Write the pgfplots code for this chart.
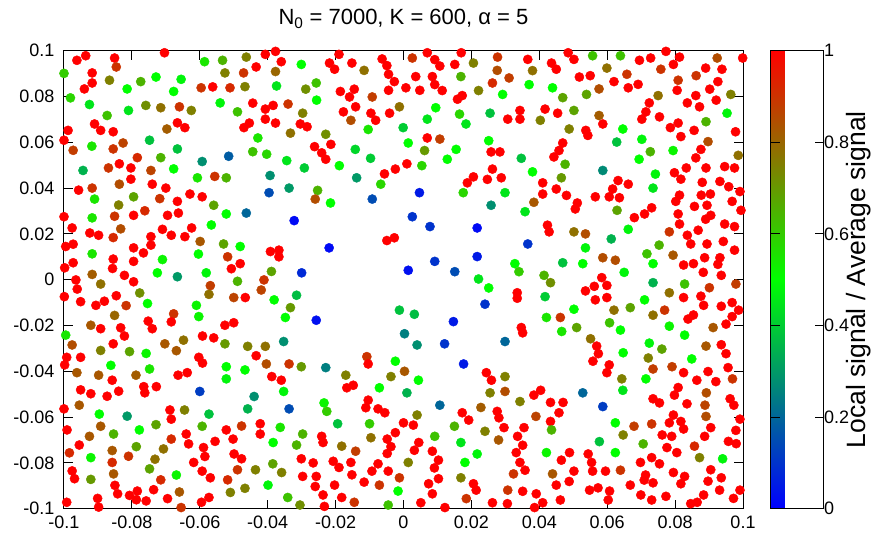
\documentclass[border=0pt]{standalone}
\usepackage{pgfplots}
\pgfplotsset{compat=1.18}
\usepackage{fontspec}
\setmainfont{Liberation Sans}

\begin{document}
\begin{tikzpicture}
\path[use as bounding box] (-64pt,-34.3pt) rectangle (811pt,508.7pt);
\begin{axis}[
  at={(0pt,0pt)}, anchor=south west,
  scale only axis, width=679pt, height=458pt,
  xmin=-0.1, xmax=0.1, ymin=-0.1, ymax=0.1,
  xtick={-0.1,-0.08,-0.06,-0.04,-0.02,0,0.02,0.04,0.06,0.08,0.1},
  ytick={-0.1,-0.08,-0.06,-0.04,-0.02,0,0.02,0.04,0.06,0.08,0.1},
  xticklabels={-0.1,-0.08,-0.06,-0.04,-0.02,0,0.02,0.04,0.06,0.08,0.1},
  yticklabels={-0.1,-0.08,-0.06,-0.04,-0.02,0,0.02,0.04,0.06,0.08,0.1},
  tick align=inside, tick pos=both, major tick length=9pt,
  xticklabel pos=lower, yticklabel pos=left,
  axis line style={line width=1pt},
  every tick/.style={black, line width=1pt},
  tick label style={font=\fontsize{18}{20}\selectfont},
  xticklabel style={yshift=-4pt},
  yticklabel style={xshift=-6pt},
  title={N\textsubscript{0} = 7000, K = 600, α = 5},
  title style={font=\fontsize{22}{24}\selectfont, at={(0.5,1)}, anchor=base, yshift=20pt},
  clip=false,
  colormap={bgr}{rgb=(0,0,1) rgb=(0,1,0) rgb=(1,0,0)},
  point meta min=0, point meta max=1,
  colorbar,
  colorbar style={
    at={(parent axis.north east)}, anchor=north west, xshift=19pt,
    width=53pt,
    ytick={0,0.2,0.4,0.6,0.8,1},
    yticklabels={0,0.2,0.4,0.6,0.8,1},
    tick align=inside, major tick length=9pt,
    axis line style={line width=1pt},
    every tick/.style={black, line width=1pt},
    tick label style={font=\fontsize{18}{20}\selectfont},
    yticklabel style={anchor=west, xshift=-3pt},
    ylabel={Local signal / Average signal},
    ylabel style={font=\fontsize{26.5}{30}\selectfont, at={(axis description cs:1.67,0.5)}, anchor=center},
  },
]
\addplot[scatter, only marks, mark=*, mark size=4.6pt, scatter src=explicit,
  scatter/use mapped color={draw=mapped color, fill=mapped color}]
  table[x=x, y=y, meta=c] {
x y c
-0.0962 0.0958 1
-0.0936 0.0978 1
-0.0851 0.0968 1
-0.0846 0.0929 0.9
-0.0704 0.0991 1
-0.1000 0.0901 0.6
-0.0917 0.0903 1
-0.0917 0.0859 1
-0.0940 0.0833 1
-0.0866 0.0871 0.75
-0.0814 0.0833 0.5
-0.0774 0.0865 0.65
-0.0729 0.0885 0.5
-0.0655 0.0875 0.48
-0.0677 0.0822 0.5
-0.0586 0.0952 0.55
-0.0533 0.0958 0.65
-0.0526 0.0903 0.75
-0.0596 0.0838 0.9
-0.0562 0.0842 1
-0.0511 0.0838 0.92
-0.0981 0.0794 0.58
-0.0925 0.0765 0.45
-0.0873 0.0717 0.62
-0.0810 0.0739 0.45
-0.0759 0.0761 0.72
-0.0715 0.0751 0.78
-0.0660 0.0755 0.9
-0.0625 0.0739 0.75
-0.0540 0.0772 0.48
-0.0910 0.0680 1
-0.0892 0.0652 1
-0.0855 0.0646 1
-0.0988 0.0652 1
-0.1000 0.0609 1
-0.0697 0.0658 0.82
-0.0666 0.0685 1
-0.0644 0.0664 1
-0.0973 0.0565 0.88
-0.0918 0.0583 0.55
-0.0855 0.0571 0.9
-0.0826 0.0597 0.87
-0.0748 0.0609 0.38
-0.0666 0.0571 0.38
-0.0784 0.0533 0.92
-0.0715 0.0533 0.65
-0.0837 0.0506 1
-0.0803 0.0488 1
-0.0869 0.0488 0.9
-0.0944 0.0477 0.35
-0.0744 0.0477 0.87
-0.0677 0.0484 0.5
-0.0593 0.0516 0.28
-0.0515 0.0539 0.18
-0.0803 0.0439 1
-0.0837 0.0417 0.85
-0.0740 0.0417 1
-0.0700 0.0400 1
-0.0607 0.0445 0.55
-0.0556 0.0451 0.9
-0.0522 0.0445 0.65
-0.0957 0.0391 1
-0.0917 0.0400 0.9
-0.0629 0.0374 1
-0.0593 0.0362 1
-0.0910 0.0352 0.55
-0.0795 0.0362 0.68
-0.0718 0.0354 0.9
-0.0463 0.0972 0.75
-0.0407 0.0984 1
-0.0377 0.0997 1
-0.0360 0.0952 1
-0.0434 0.0929 1
-0.0471 0.0903 0.9
-0.0377 0.0909 0.8
-0.0301 0.0940 0.5
-0.0218 0.0946 1
-0.0203 0.0919 1
-0.0190 0.0984 1
-0.0152 0.0946 1
-0.0116 0.0914 0.78
-0.0063 0.0964 1
-0.0049 0.0935 1
-0.0044 0.0897 1
-0.0027 0.0865 1
-0.0467 0.0843 0.75
-0.0374 0.0846 0.45
-0.0288 0.0832 0.72
-0.0257 0.0859 0.62
-0.0256 0.0784 0.5
-0.0186 0.0822 1
-0.0159 0.0798 1
-0.0145 0.0832 1
-0.0092 0.0798 0.88
-0.0044 0.0827 1
-0.0444 0.0771 1
-0.0407 0.0745 1
-0.0384 0.0761 1
-0.0340 0.0767 0.9
-0.0489 0.0733 0.62
-0.0297 0.0727 0.75
-0.0177 0.0733 1
-0.0141 0.0755 1
-0.0096 0.0727 1
-0.0082 0.0696 1
-0.0041 0.0727 1
-0.0012 0.0755 0.78
-0.0407 0.0701 1
-0.0377 0.0684 1
-0.0454 0.0684 1
-0.0470 0.0664 1
-0.0304 0.0680 1
-0.0284 0.0668 1
-0.0333 0.0640 0.78
-0.0229 0.0635 0.72
-0.0155 0.0696 0.85
-0.0104 0.0656 0.55
-0.0429 0.0619 0.55
-0.0262 0.0581 1
-0.0214 0.0591 1
-0.0241 0.0554 1
-0.0229 0.0526 1
-0.0444 0.0559 0.62
-0.0403 0.0548 0.58
-0.0344 0.0520 0.45
-0.0292 0.0488 0.4
-0.0189 0.0498 0.5
-0.0142 0.0569 0.42
-0.0097 0.0530 0.4
-0.0056 0.0462 1
-0.0024 0.0483 1
-0.0393 0.0455 0.28
-0.0337 0.0400 0.3
-0.0396 0.0380 0.15
-0.0253 0.0390 0.65
-0.0138 0.0445 0.3
-0.0067 0.0417 0.58
-0.0092 0.0352 0.15
-0.0260 0.0352 0.85
0.0026 0.0968 0.9
0.0070 0.0991 1
0.0092 0.0961 1
0.0107 0.0933 1
0.0151 0.0940 1
0.0170 0.0991 1
0.0206 0.0946 0.75
0.0277 0.0972 0.9
0.0366 0.0962 1
0.0436 0.0946 1
0.0450 0.0919 1
0.0485 0.0991 1
0.0276 0.0914 0.85
0.0311 0.0881 0.88
0.0380 0.0913 0.78
0.0262 0.0859 0.92
0.0036 0.0887 1
0.0085 0.0887 1
0.0092 0.0852 1
0.0114 0.0826 1
0.0007 0.0838 1
0.0048 0.0827 1
0.0169 0.0887 0.65
0.0221 0.0826 0.75
0.0370 0.0852 0.5
0.0439 0.0838 0.5
0.0469 0.0795 0.68
0.0173 0.0804 1
0.0159 0.0788 1
0.0292 0.0809 0.5
0.0095 0.0751 0.5
0.0070 0.0701 0.45
0.0165 0.0723 0.58
0.0184 0.0680 0.45
0.0255 0.0727 0.38
0.0343 0.0739 1
0.0307 0.0701 1
0.0343 0.0701 1
0.0417 0.0745 1
0.0454 0.0727 1
0.0403 0.0696 0.75
-0.0001 0.0664 0.4
0.0070 0.0619 1
0.0107 0.0614 0.88
0.0014 0.0597 0.5
0.0062 0.0564 0.7
0.0155 0.0569 0.5
0.0129 0.0526 0.5
0.0054 0.0498 0.58
0.0010 0.0506 1
0.0251 0.0607 0.5
0.0258 0.0558 1
0.0284 0.0558 1
0.0347 0.0530 0.38
0.0469 0.0597 1
0.0458 0.0564 1
0.0443 0.0536 1
0.0476 0.0504 0.65
0.0488 0.0658 0.75
0.0262 0.0483 1
0.0206 0.0449 1
0.0188 0.0423 1
0.0247 0.0438 1
0.0288 0.0445 1
0.0380 0.0471 0.5
0.0410 0.0423 1
0.0450 0.0396 1
0.0465 0.0445 0.7
0.0410 0.0374 1
0.0480 0.0368 1
0.0047 0.0380 0.05
0.0176 0.0380 0.58
0.0299 0.0380 0.45
0.0502 0.0962 1
0.0557 0.0978 0.62
0.0639 0.0978 0.62
0.0695 0.0958 1
0.0728 0.0968 1
0.0773 0.0997 1
0.0795 0.0940 1
0.0813 0.0972 1
0.0924 0.0968 0.85
0.0999 0.0968 1
0.0599 0.0924 0.78
0.0758 0.0919 0.9
0.0890 0.0924 1
0.0938 0.0919 1
0.0518 0.0885 1
0.0550 0.0891 1
0.0658 0.0897 0.9
0.0620 0.0865 1
0.0662 0.0838 1
0.0691 0.0853 1
0.0809 0.0871 0.9
0.0862 0.0891 0.9
0.0926 0.0865 1
0.0576 0.0833 0.85
0.0539 0.0809 0.68
0.0750 0.0804 0.78
0.0806 0.0827 1
0.0861 0.0804 1
0.0902 0.0832 1
0.0921 0.0784 1
0.0964 0.0809 0.75
0.0724 0.0772 1
0.0714 0.0733 1
0.0836 0.0772 1
0.0872 0.0755 1
0.0502 0.0739 0.68
0.0576 0.0717 0.82
0.0587 0.0680 1
0.0702 0.0701 1
0.0754 0.0711 1
0.0953 0.0727 0.48
0.0646 0.0658 0.5
0.0537 0.0652 1
0.0543 0.0630 1
0.0786 0.0664 1
0.0809 0.0684 1
0.0817 0.0625 1
0.0856 0.0652 1
0.0891 0.0690 0.65
0.0978 0.0646 1
0.0628 0.0601 0.38
0.0702 0.0613 0.48
0.0897 0.0603 0.85
0.0986 0.0543 0.78
0.0727 0.0559 0.65
0.0794 0.0564 0.52
0.0694 0.0526 0.5
0.0876 0.0569 1
0.0861 0.0532 1
0.0587 0.0477 0.27
0.0632 0.0433 1
0.0616 0.0396 1
0.0662 0.0417 1
0.0742 0.0461 0.48
0.0735 0.0400 0.45
0.0798 0.0467 1
0.0817 0.0439 1
0.0833 0.0488 1
0.0891 0.0488 1
0.0946 0.0494 1
0.0975 0.0488 1
0.0880 0.0425 1
0.0932 0.0429 1
0.0958 0.0406 1
0.0991 0.0385 1
0.0565 0.0362 1
0.0606 0.0362 1
0.0636 0.0358 1
0.0813 0.0369 1
0.0877 0.0369 1
0.0904 0.0374 1
-0.0839 0.0326 0.75
-0.0666 0.0342 1
-0.0559 0.0325 0.68
-0.0522 0.0287 0.5
-0.1000 0.0275 1
-0.0917 0.0270 0.55
-0.0851 0.0277 0.9
-0.0795 0.0281 1
-0.0762 0.0301 0.92
-0.0695 0.0281 1
-0.0663 0.0291 1
-0.0566 0.0239 0.5
-0.0976 0.0226 1
-0.0924 0.0204 1
-0.0898 0.0194 1
-0.0833 0.0222 0.85
-0.0855 0.0184 0.92
-0.0744 0.0188 1
-0.0710 0.0220 1
-0.0684 0.0194 1
-0.0644 0.0188 1
-0.0624 0.0226 1
-0.0599 0.0167 0.83
-0.0530 0.0156 0.68
-0.0995 0.0145 1
-0.0973 0.0155 1
-0.0795 0.0139 1
-0.0744 0.0151 1
-0.0766 0.0117 1
-0.0917 0.0113 0.55
-0.0855 0.0090 1
-0.0795 0.0080 1
-0.0710 0.0088 0.52
-0.0604 0.0112 0.5
-0.0518 0.0100 0.9
-0.0998 0.0052 1
-0.0973 0.0074 1
-0.0857 0.0049 1
-0.0725 0.0030 0.5
-0.0666 0.0013 0.3
-0.0581 0.0030 0.48
-0.0507 0.0048 1
-0.0917 0.0023 0.82
-0.0822 0.0019 1
-0.0795 -0.0009 1
-0.0965 -0.0001 1
-0.0961 -0.0041 1
-0.0892 -0.0019 0.78
-0.0569 -0.0026 0.88
-0.0573 -0.0064 0.78
-0.0999 -0.0074 1
-0.0951 -0.0096 1
-0.0906 -0.0112 1
-0.0881 -0.0094 1
-0.0846 -0.0070 1
-0.0817 -0.0113 0.9
-0.0777 -0.0058 0.72
-0.0754 -0.0104 0.5
-0.0610 -0.0112 0.52
-0.0677 -0.0149 0.9
-0.0684 -0.0184 1
-0.0752 -0.0181 1
-0.0740 -0.0214 1
-0.0851 -0.0156 0.8
-0.0921 -0.0199 0.83
-0.0892 -0.0214 1
-0.0833 -0.0210 1
-0.0822 -0.0246 1
-0.0855 -0.0280 1
-0.0603 -0.0161 0.52
-0.0526 -0.0199 1
-0.0995 -0.0242 0.55
-0.0976 -0.0285 0.85
-0.0892 -0.0309 0.75
-0.0807 -0.0314 0.68
-0.0758 -0.0322 0.52
-0.0703 -0.0280 0.83
-0.0648 -0.0264 0.78
-0.0669 -0.0310 0.83
-0.0592 -0.0246 1
-0.0559 -0.0254 1
-0.0526 -0.0280 0.7
-0.0215 0.0335 0.5
-0.0463 0.0291 0.2
-0.0322 0.0258 0.02
-0.0219 0.0139 0.02
-0.0049 0.0171 1
-0.0027 0.0183 1
-0.0481 0.0145 0.5
-0.0392 0.0123 1
-0.0367 0.0129 1
-0.0367 0.0100 1
-0.0481 0.0070 1
-0.0389 0.0036 0.68
-0.0300 0.0030 0.08
-0.0489 -0.0007 0.65
-0.0411 -0.0001 0.9
-0.0419 -0.0045 0.87
-0.0500 -0.0078 0.87
-0.0466 -0.0078 1
-0.0381 -0.0088 0.5
-0.0315 -0.0068 0.37
-0.0333 -0.0122 0.7
-0.0348 -0.0165 0.5
-0.0257 -0.0177 0.03
-0.0012 -0.0133 0.38
-0.0500 -0.0188 1
-0.0353 -0.0270 0.28
-0.0459 -0.0291 0.75
-0.0407 -0.0291 0.78
0.0258 0.0325 0.28
0.0384 0.0338 0.83
0.0358 0.0297 0.45
0.0026 0.0275 0.1
0.0078 0.0232 0.1
0.0217 0.0226 0.02
0.0424 0.0238 1
0.0429 0.0209 1
0.0366 0.0156 0.1
0.0092 0.0080 0.1
0.0217 0.0101 0.05
0.0014 0.0041 0.03
0.0151 0.0035 0.15
0.0328 0.0070 0.5
0.0340 0.0035 0.6
0.0469 0.0074 0.38
0.0221 0.0003 0.45
0.0251 -0.0036 0.5
0.0414 0.0019 0.65
0.0433 -0.0013 0.72
0.0335 -0.0057 1
0.0335 -0.0081 1
0.0417 -0.0074 0.4
0.0240 -0.0107 0.1
0.0032 -0.0151 0.37
0.0147 -0.0183 0.05
0.0421 -0.0165 0.55
0.0462 -0.0165 0.9
0.0347 -0.0209 1
0.0351 -0.0232 1
0.0466 -0.0226 0.55
0.0003 -0.0236 0.25
0.0040 -0.0285 0.28
0.0121 -0.0280 0.1
0.0299 -0.0270 0.2
0.0512 0.0335 1
0.0506 0.0309 1
0.0802 0.0342 1
0.0968 0.0342 1
0.0629 0.0303 0.68
0.0731 0.0314 1
0.0710 0.0287 1
0.0680 0.0271 1
0.0809 0.0287 1
0.0857 0.0320 1
0.0894 0.0325 1
0.0905 0.0281 1
0.0890 0.0264 1
0.0994 0.0303 1
0.0813 0.0243 1
0.0868 0.0216 1
0.0946 0.0243 1
0.0975 0.0232 1
0.0502 0.0209 0.78
0.0536 0.0200 0.85
0.0612 0.0178 0.35
0.0662 0.0220 0.48
0.0783 0.0209 0.9
0.0836 0.0194 1
0.0846 0.0156 1
0.0894 0.0156 1
0.0942 0.0167 1
0.0975 0.0129 1
0.0536 0.0139 0.48
0.0753 0.0151 0.65
0.0717 0.0113 0.62
0.0794 0.0107 0.83
0.0528 0.0070 0.5
0.0587 0.0096 0.85
0.0624 0.0085 0.85
0.0650 0.0032 0.48
0.0735 0.0070 0.5
0.0825 0.0064 1
0.0854 0.0070 1
0.0887 0.0096 1
0.0932 0.0096 1
0.0926 0.0067 1
0.0883 0.0032 1
0.0936 0.0019 1
0.0584 0.0009 1
0.0562 -0.0029 1
0.0599 -0.0025 1
0.0536 -0.0049 1
0.0565 -0.0088 1
0.0599 -0.0078 1
0.0735 -0.0013 0.35
0.0828 -0.0019 0.62
0.0901 -0.0035 0.9
0.0979 -0.0019 0.88
0.0783 -0.0057 0.78
0.0825 -0.0078 1
0.0876 -0.0072 1
0.0884 -0.0112 1
0.0936 -0.0116 1
0.0968 -0.0100 1
0.0987 -0.0133 1
0.0968 -0.0161 1
0.0854 -0.0154 1
0.0838 -0.0172 1
0.0710 -0.0088 0.5
0.0502 -0.0129 0.5
0.0620 -0.0133 0.78
0.0668 -0.0122 0.68
0.0769 -0.0133 0.9
0.0735 -0.0155 0.78
0.0510 -0.0209 0.68
0.0607 -0.0188 0.62
0.0639 -0.0220 0.5
0.0783 -0.0203 0.52
0.0950 -0.0194 1
0.0912 -0.0209 0.83
0.0551 -0.0258 0.78
0.0569 -0.0290 1
0.0574 -0.0323 1
0.0724 -0.0277 0.48
0.0761 -0.0303 0.68
0.0828 -0.0242 0.5
0.0891 -0.0290 0.83
0.0936 -0.0284 1
0.0950 -0.0323 1
0.0647 -0.0319 0.5
-0.0992 -0.0339 1
-0.0951 -0.0339 1
-0.0998 -0.0372 1
-0.0603 -0.0339 1
-0.0592 -0.0364 1
-0.0862 -0.0374 0.5
-0.0748 -0.0390 0.55
-0.0522 -0.0380 0.5
-0.0522 -0.0433 0.48
-0.0962 -0.0406 0.83
-0.0898 -0.0417 0.83
-0.0788 -0.0417 0.82
-0.0858 -0.0439 1
-0.0664 -0.0417 1
-0.0637 -0.0406 1
-0.0765 -0.0467 1
-0.0762 -0.0494 1
-0.0728 -0.0467 1
-0.0951 -0.0481 1
-0.0921 -0.0498 1
-0.0873 -0.0509 1
-0.0839 -0.0487 1
-0.0600 -0.0488 0.12
-0.1000 -0.0564 1
-0.0955 -0.0548 0.83
-0.0896 -0.0587 0.5
-0.0814 -0.0596 0.3
-0.0688 -0.0569 1
-0.0684 -0.0609 1
-0.0645 -0.0569 0.75
-0.0573 -0.0587 0.38
-0.0991 -0.0656 1
-0.0892 -0.0640 0.83
-0.0925 -0.0684 0.83
-0.0955 -0.0722 1
-0.0854 -0.0674 0.65
-0.0778 -0.0656 0.5
-0.0729 -0.0633 0.68
-0.0593 -0.0640 0.65
-0.0522 -0.0656 1
-0.0684 -0.0696 0.92
-0.0640 -0.0674 1
-0.0633 -0.0717 1
-0.0589 -0.0733 1
-0.0555 -0.0706 1
-0.0585 -0.0772 1
-0.0984 -0.0756 0.92
-0.0921 -0.0777 0.52
-0.0858 -0.0746 0.83
-0.0787 -0.0729 0.68
-0.0707 -0.0739 0.78
-0.0810 -0.0771 0.9
-0.0858 -0.0798 0.92
-0.0732 -0.0784 0.78
-0.0618 -0.0798 1
-0.0976 -0.0835 1
-0.0969 -0.0869 1
-0.0921 -0.0872 0.7
-0.0854 -0.0848 0.83
-0.0748 -0.0826 0.68
-0.0669 -0.0853 0.52
-0.0715 -0.0874 0.92
-0.0593 -0.0836 1
-0.0569 -0.0865 1
-0.0518 -0.0874 0.92
-0.0850 -0.0898 1
-0.0842 -0.0935 1
-0.0901 -0.0955 1
-0.0898 -0.0993 1
-0.0992 -0.0972 1
-0.0807 -0.0942 1
-0.0784 -0.0923 1
-0.0787 -0.0961 1
-0.0758 -0.0966 1
-0.0736 -0.0917 1
-0.0695 -0.0956 1
-0.0660 -0.0927 0.83
-0.0655 -0.0995 0.9
-0.0595 -0.0972 1
-0.0573 -0.0951 1
-0.0510 -0.0929 0.75
-0.0434 -0.0332 1
-0.0404 -0.0368 0.85
-0.0337 -0.0368 0.9
-0.0301 -0.0380 0.7
-0.0229 -0.0384 0.25
-0.0108 -0.0336 0.9
-0.0104 -0.0368 1
-0.0024 -0.0356 0.5
-0.0467 -0.0394 0.5
-0.0388 -0.0423 1
-0.0360 -0.0439 1
-0.0170 -0.0417 0.75
-0.0037 -0.0423 0.75
-0.0167 -0.0472 1
-0.0148 -0.0461 1
-0.0071 -0.0472 0.5
-0.0353 -0.0488 0.48
-0.0440 -0.0510 0.28
-0.0459 -0.0564 0.35
-0.0337 -0.0564 0.15
-0.0234 -0.0538 0.52
-0.0226 -0.0575 0.6
-0.0104 -0.0526 1
-0.0111 -0.0559 1
-0.0075 -0.0564 1
-0.0055 -0.0581 1
-0.0477 -0.0639 0.9
-0.0422 -0.0629 1
-0.0422 -0.0674 1
-0.0363 -0.0645 0.55
-0.0194 -0.0629 0.38
-0.0100 -0.0629 0.6
-0.0502 -0.0696 1
-0.0384 -0.0711 0.5
-0.0297 -0.0674 0.65
-0.0315 -0.0722 0.65
-0.0241 -0.0684 1
-0.0237 -0.0711 1
-0.0182 -0.0727 0.78
-0.0141 -0.0749 0.88
-0.0096 -0.0690 0.78
-0.0048 -0.0696 1
-0.0024 -0.0668 1
-0.0037 -0.0729 1
-0.0048 -0.0759 1
-0.0499 -0.0761 1
-0.0477 -0.0782 1
-0.0301 -0.0782 1
-0.0266 -0.0800 1
-0.0207 -0.0793 1
-0.0190 -0.0820 1
-0.0155 -0.0798 1
-0.0152 -0.0852 1
-0.0075 -0.0804 1
-0.0093 -0.0836 1
-0.0045 -0.0836 1
-0.0489 -0.0830 0.9
-0.0436 -0.0830 0.75
-0.0385 -0.0804 0.68
-0.0359 -0.0842 0.75
-0.0297 -0.0859 1
-0.0257 -0.0859 1
-0.0116 -0.0884 1
-0.0071 -0.0897 0.9
-0.0012 -0.0865 0.9
-0.0260 -0.0903 1
-0.0203 -0.0897 1
-0.0237 -0.0940 1
-0.0182 -0.0951 1
-0.0145 -0.0972 0.9
-0.0233 -0.0990 1
-0.0467 -0.0911 0.75
-0.0399 -0.0897 0.48
-0.0341 -0.0951 0.62
-0.0305 -0.0984 0.72
-0.0045 -0.0984 0.62
-0.0016 -0.0923 0.5
0.0003 -0.0400 0.83
0.0044 -0.0439 0.5
0.0010 -0.0494 0.35
0.0177 -0.0368 0.05
0.0244 -0.0406 1
0.0259 -0.0439 1
0.0299 -0.0423 0.75
0.0299 -0.0488 0.85
0.0255 -0.0494 0.75
0.0107 -0.0548 0.2
0.0228 -0.0558 0.82
0.0343 -0.0532 0.75
0.0384 -0.0504 1
0.0404 -0.0483 1
0.0433 -0.0536 1
0.0470 -0.0536 1
0.0458 -0.0581 1
0.0040 -0.0591 0.75
0.0000 -0.0625 1
0.0029 -0.0635 1
0.0173 -0.0581 1
0.0192 -0.0613 1
0.0150 -0.0640 0.65
0.0276 -0.0575 1
0.0281 -0.0603 1
0.0296 -0.0646 1
0.0355 -0.0646 1
0.0390 -0.0597 0.87
0.0433 -0.0619 1
0.0436 -0.0656 0.65
0.0092 -0.0684 0.62
0.0045 -0.0711 1
0.0032 -0.0745 1
0.0085 -0.0749 1
0.0103 -0.0788 1
0.0091 -0.0822 1
0.0169 -0.0711 0.45
0.0240 -0.0662 0.75
0.0280 -0.0700 0.83
0.0336 -0.0684 1
0.0351 -0.0723 1
0.0332 -0.0755 1
0.0343 -0.0798 1
0.0358 -0.0832 1
0.0217 -0.0761 0.48
0.0181 -0.0798 0.5
0.0014 -0.0798 0.75
0.0421 -0.0755 0.52
0.0489 -0.0755 1
0.0465 -0.0788 1
0.0439 -0.0848 0.83
0.0450 -0.0897 1
0.0488 -0.0881 1
0.0169 -0.0865 0.75
0.0074 -0.0891 1
0.0103 -0.0869 1
0.0085 -0.0935 1
0.0206 -0.0891 1
0.0214 -0.0919 1
0.0324 -0.0848 0.9
0.0307 -0.0919 0.9
0.0351 -0.0924 1
0.0391 -0.0935 1
0.0410 -0.0974 1
0.0462 -0.0962 1
0.0051 -0.0974 1
0.0122 -0.0995 1
0.0185 -0.0956 0.9
0.0262 -0.0974 1
0.0306 -0.0978 1
0.0386 -0.0995 1
0.0558 -0.0356 1
0.0721 -0.0342 0.75
0.0849 -0.0346 0.5
0.0606 -0.0372 1
0.0599 -0.0406 1
0.0643 -0.0433 0.75
0.0714 -0.0433 0.5
0.0735 -0.0390 0.88
0.0791 -0.0380 0.88
0.0825 -0.0406 1
0.0897 -0.0401 1
0.0864 -0.0439 1
0.0920 -0.0445 1
0.0956 -0.0384 1
0.0969 -0.0433 0.9
0.0528 -0.0494 0.2
0.0587 -0.0554 0.12
0.0646 -0.0483 0.45
0.0809 -0.0471 1
0.0798 -0.0504 1
0.0892 -0.0494 0.85
0.0735 -0.0520 1
0.0754 -0.0538 1
0.0835 -0.0542 1
0.0888 -0.0548 0.87
0.0962 -0.0520 1
0.0973 -0.0548 1
0.0624 -0.0625 0.5
0.0679 -0.0640 0.88
0.0731 -0.0630 0.9
0.0795 -0.0591 1
0.0783 -0.0625 1
0.0817 -0.0619 1
0.0825 -0.0652 1
0.0891 -0.0597 0.85
0.0905 -0.0646 1
0.0991 -0.0609 1
0.0979 -0.0658 1
0.0647 -0.0678 0.75
0.0762 -0.0678 1
0.0790 -0.0684 1
0.0887 -0.0684 1
0.0957 -0.0706 1
0.0980 -0.0716 1
0.0577 -0.0707 0.38
0.0706 -0.0717 0.65
0.0776 -0.0733 1
0.0805 -0.0755 1
0.0857 -0.0727 0.92
0.0624 -0.0755 0.5
0.0544 -0.0761 1
0.0554 -0.0798 1
0.0502 -0.0836 1
0.0557 -0.0836 1
0.0595 -0.0836 1
0.0639 -0.0832 0.9
0.0698 -0.0798 1
0.0731 -0.0777 1
0.0754 -0.0804 1
0.0872 -0.0777 0.75
0.0940 -0.0782 0.48
0.0905 -0.0830 1
0.0795 -0.0842 1
0.0828 -0.0859 1
0.0936 -0.0865 1
0.0713 -0.0853 1
0.0709 -0.0875 1
0.0735 -0.0887 1
0.0817 -0.0891 1
0.0897 -0.0880 1
0.0668 -0.0897 1
0.0548 -0.0919 1
0.0573 -0.0909 1
0.0607 -0.0923 1
0.0603 -0.0962 1
0.0699 -0.0940 1
0.0731 -0.0962 1
0.0773 -0.0946 1
0.0846 -0.0978 1
0.0865 -0.0972 1
0.0884 -0.0940 1
0.0931 -0.0919 1
0.0972 -0.0955 1
0.0991 -0.0919 1
};
\end{axis}
\end{tikzpicture}
\end{document}
